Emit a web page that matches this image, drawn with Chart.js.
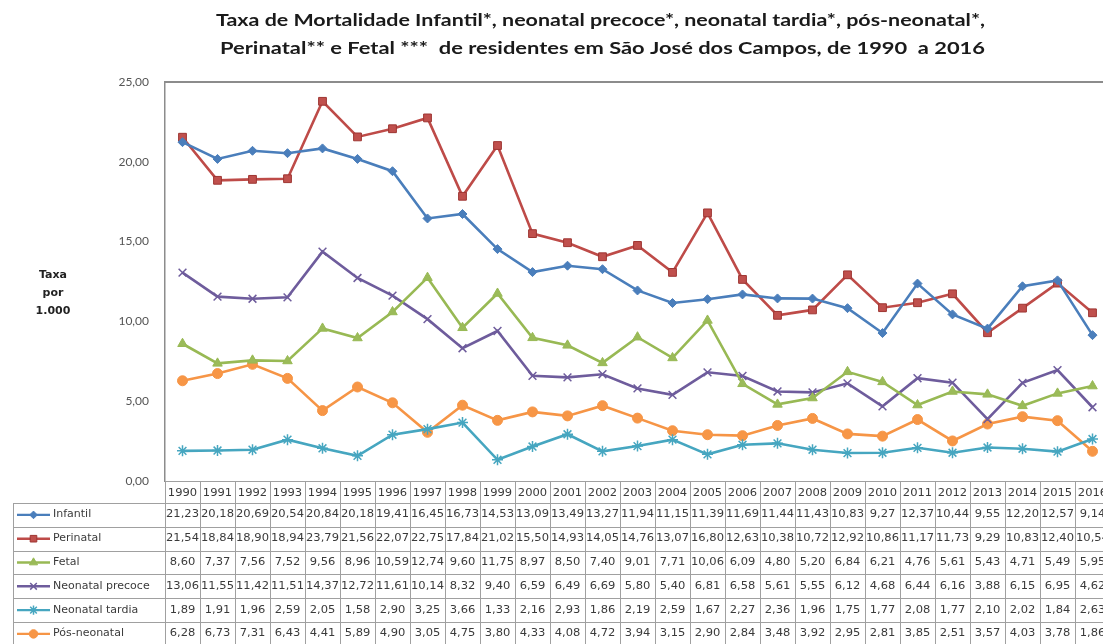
<!DOCTYPE html>
<html>
<head>
<meta charset="utf-8">
<script src="https://cdn.jsdelivr.net/npm/chart.js@4"></script>
<style>
  html, body { margin: 0; padding: 0; background: #fff; overflow: hidden; }
  #wrap { width: 1120px; height: 644px; position: relative; }
</style>
</head>
<body>
<div id="wrap"><canvas id="c" width="1120" height="644"></canvas></div>
<script>
// Anos
const years = ['1990','1991','1992','1993','1994','1995','1996','1997','1998','1999','2000','2001','2002','2003','2004','2005','2006','2007','2008','2009','2010','2011','2012','2013','2014','2015','2016'];

// Taxas por 1.000
const infantil = [21.23,20.18,20.69,20.54,20.84,20.18,19.41,16.45,16.73,14.53,13.09,13.49,13.27,11.94,11.15,11.39,11.69,11.44,11.43,10.83,9.27,12.37,10.44,9.55,12.20,12.57,9.14];
const perinatal = [21.54,18.84,18.9,18.94,23.79,21.56,22.07,22.75,17.84,21.02,15.50,14.93,14.05,14.76,13.07,16.80,12.63,10.38,10.72,12.92,10.86,11.17,11.73,9.29,10.83,12.40,10.54];
const fetal = [8.60,7.37,7.56,7.52,9.56,8.96,10.59,12.74,9.60,11.75,8.97,8.50,7.40,9.01,7.71,10.06,6.09,4.80,5.20,6.84,6.21,4.76,5.61,5.43,4.71,5.49,5.95];
const neonatalPrecoce = [13.06,11.55,11.42,11.51,14.37,12.72,11.61,10.14,8.32,9.40,6.59,6.49,6.69,5.80,5.40,6.81,6.58,5.61,5.55,6.12,4.68,6.44,6.16,3.88,6.15,6.95,4.62];
const neonatalTardia = [1.89,1.91,1.96,2.59,2.05,1.58,2.90,3.25,3.66,1.33,2.16,2.93,1.86,2.19,2.59,1.67,2.27,2.36,1.96,1.75,1.77,2.08,1.77,2.10,2.02,1.84,2.63];
const posNeonatal = [6.28,6.73,7.31,6.43,4.41,5.89,4.90,3.05,4.75,3.80,4.33,4.08,4.72,3.94,3.15,2.90,2.84,3.48,3.92,2.95,2.81,3.85,2.51,3.57,4.03,3.78,1.86];

const seriesNames = ['Infantil','Perinatal','Fetal','Neonatal precoce','Neonatal tardia','Pós-neonatal'];

const titleLines = [
  'Taxa de Mortalidade Infantil*, neonatal precoce*, neonatal tardia*, pós-neonatal*,',
  'Perinatal** e Fetal ***  de residentes em São José dos Campos, de 1990  a 2016'
];
const axisLabel = ['Taxa', 'por', '1.000'];

const styles = [
  { color: '#4a7ebb', fill: '#4a7ebb', point: 'rectRot', r: 4.5 },
  { color: '#be4b48', fill: '#c0504d', point: 'rect', r: 5.5, border: '#9e3532' },
  { color: '#98b954', fill: '#9bbb59', point: 'triangle', r: 5.5 },
  { color: '#6e5c9c', fill: '#7d60a0', point: 'crossRot', r: 5.5 },
  { color: '#46a6c0', fill: '#4bacc6', point: 'star', r: 5.5 },
  { color: '#f69546', fill: '#f79646', point: 'circle', r: 5 }
];

const values = [infantil, perinatal, fetal, neonatalPrecoce, neonatalTardia, posNeonatal];

const fmt = v => v.toFixed(2).replace('.', ',');

const datasets = values.map((arr, i) => ({
  label: seriesNames[i],
  data: arr,
  borderColor: styles[i].color,
  backgroundColor: styles[i].fill,
  pointBackgroundColor: styles[i].fill,
  pointBorderColor: styles[i].border || styles[i].color,
  pointStyle: styles[i].point,
  pointRadius: styles[i].r,
  pointBorderWidth: (styles[i].point === 'crossRot' || styles[i].point === 'star') ? 1.5 : 1,
  borderWidth: 2.6,
  tension: 0,
  fill: false
}));

// draws text squeezed/stretched horizontally to a given width factor
function stretchText(ctx, text, x, y, sx, align) {
  ctx.save();
  ctx.translate(x, y);
  ctx.scale(sx, 1);
  ctx.textAlign = align;
  ctx.fillText(text, 0, 0);
  ctx.restore();
}

// Title, axis caption, frame and the data table under the plot
const sheetPlugin = {
  id: 'sheet',
  afterDraw(chart) {
    const ctx = chart.ctx;
    const area = chart.chartArea;
    const xs = chart.scales.x;
    const L = area.left, R = area.right, B = area.bottom;
    ctx.save();

    // title
    ctx.fillStyle = '#1a1a1a';
    ctx.font = 'bold 17px Lato';
    ctx.textBaseline = 'middle';
    const tY = [21, 49];
    const tX = [216, 220];
    const tW = [769, 765];
    titleLines.forEach((t, i) => {
      const w = ctx.measureText(t).width;
      stretchText(ctx, t, tX[i], tY[i], tW[i] / w, 'left');
    });

    // axis caption
    ctx.font = 'bold 11px "DejaVu Sans"';
    ctx.textAlign = 'center';
    ctx.fillStyle = '#222';
    axisLabel.forEach((t, i) => ctx.fillText(t, 53, 275 + i * 18));

    // top frame line
    ctx.strokeStyle = '#8c8c8c';
    ctx.lineWidth = 2;
    ctx.beginPath();
    ctx.moveTo(L, area.top);
    ctx.lineTo(R + 20, area.top);
    ctx.stroke();

    // table grid
    const rowTop = 503, rowH = 23.8, nRows = 6;
    const colW = (R - L) / years.length;
    ctx.strokeStyle = '#a0a0a0';
    ctx.lineWidth = 1;
    ctx.beginPath();
    ctx.moveTo(L, B + 0.5); ctx.lineTo(R + 20, B + 0.5);
    for (let r = 0; r <= nRows; r++) {
      const y = Math.round(rowTop + r * rowH) + 0.5;
      ctx.moveTo(13, y); ctx.lineTo(R + 20, y);
    }
    ctx.moveTo(13.5, rowTop); ctx.lineTo(13.5, 644);
    for (let c = 0; c <= years.length; c++) {
      const x = Math.round(L + c * colW) + 0.5;
      ctx.moveTo(x, B); ctx.lineTo(x, 644);
    }
    ctx.stroke();

    // years
    ctx.font = '10px "DejaVu Sans"';
    ctx.fillStyle = '#3a3a3a';
    years.forEach((y, i) => stretchText(ctx, y, xs.getPixelForValue(i), 493, 1.15, 'center'));

    // rows
    values.forEach((arr, r) => {
      const cy = rowTop + rowH * (r + 0.5);
      ctx.fillStyle = '#3a3a3a';
      arr.forEach((v, i) => stretchText(ctx, fmt(v), xs.getPixelForValue(i), cy, 1.15, 'center'));
      // legend key
      const st = styles[r];
      ctx.strokeStyle = st.color;
      ctx.lineWidth = 2.4;
      ctx.beginPath();
      ctx.moveTo(17, cy); ctx.lineTo(50, cy);
      ctx.stroke();
      ctx.fillStyle = st.fill;
      ctx.strokeStyle = st.border || st.color;
      ctx.lineWidth = (st.point === 'crossRot' || st.point === 'star') ? 1.5 : 1;
      Chart.helpers.drawPoint(ctx, { pointStyle: st.point, radius: st.r * 0.85, rotation: 0, borderWidth: ctx.lineWidth }, 33.5, cy);
      ctx.fillStyle = '#3a3a3a';
      stretchText(ctx, seriesNames[r], 53, cy, 1.1, 'left');
    });

    ctx.restore();
  }
};

new Chart(document.getElementById('c'), {
  type: 'line',
  data: { labels: years, datasets },
  options: {
    responsive: false,
    animation: false,
    layout: { padding: { left: 0, top: 82, right: 10, bottom: 163 } },
    plugins: { legend: { display: false }, title: { display: false }, tooltip: { enabled: false } },
    scales: {
      x: {
        type: 'category',
        offset: true,
        display: false
      },
      y: {
        min: 0,
        max: 25,
        afterFit(scale) { scale.width = 165; },
        grid: { display: false, drawTicks: false },
        border: { display: true, color: '#8c8c8c', width: 1.5 },
        ticks: {
          stepSize: 5,
          padding: 16,
          color: '#555',
          font: { family: 'Lato', size: 12 },
          callback: v => fmt(v)
        }
      }
    }
  },
  plugins: [sheetPlugin]
});
</script>
</body>
</html>
